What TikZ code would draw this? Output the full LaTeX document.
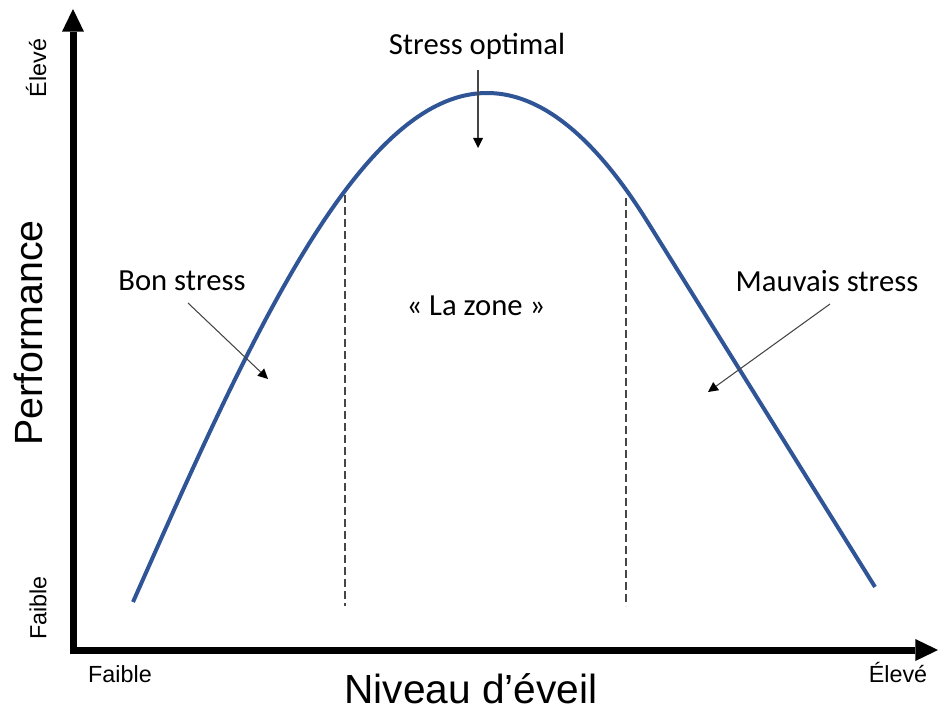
\documentclass[tikz,border=0pt]{standalone}
\usepackage{fontspec}
\setmainfont{Liberation Sans}
\newfontfamily\calib{Carlito}
\usetikzlibrary{arrows.meta}
\definecolor{curveblue}{RGB}{47,85,151}
\definecolor{arrgrey}{RGB}{70,70,70}
\begin{document}
\begin{tikzpicture}[x=0.75pt,y=-0.75pt,
  axisline/.style={line width=5.25pt, line join=miter,
    {Triangle[length=17pt,width=16.5pt,line width=0pt]}-{Triangle[length=17pt,width=16.5pt,line width=0pt]}},
  tick/.style={font=\fontsize{17.5pt}{20pt}\selectfont, inner sep=0pt},
  axtitle/.style={font=\fontsize{30.5pt}{36pt}\selectfont, inner sep=0pt},
  lbl/.style={font=\calib\fontsize{23pt}{27pt}\selectfont, inner sep=0pt},
  pointer/.style={draw=arrgrey, line width=0.8pt, -{Triangle[length=7.5pt,width=7.5pt,line width=0pt,fill=black]}},
  zoneline/.style={draw=arrgrey, line width=1.1pt, dash pattern=on 6pt off 3pt},
  bell/.style={draw=curveblue, line width=3pt, line cap=butt, line join=round}]
\useasboundingbox (0,0) rectangle (938,713);

% axes
\coordinate (ytip) at (73,9);
\coordinate (corner) at (73,650);
\coordinate (xtip) at (938,650);
\draw[axisline] (ytip) -- (corner) -- (xtip);

% axis labels
\node[tick, rotate=90] (ylow) at (38,608) {Faible};
\node[tick, rotate=90] (yhigh) at (36,68) {Élevé};
\node[tick] (xlow) at (120,674) {Faible};
\node[tick] (xhigh) at (898,672) {Élevé};
\node[axtitle, rotate=90, anchor=base, font=\fontsize{29.5pt}{34pt}\selectfont] (ytitle) at (42,333) {Performance};
\node[axtitle, anchor=base] (xtitle) at (471,703) {Niveau d’éveil};

% zone boundaries
\coordinate (zl1) at (345,195);
\coordinate (zl2) at (345,606);
\coordinate (zr1) at (626,198);
\coordinate (zr2) at (626,606);
\draw[zoneline] (zl1) -- (zl2);
\draw[zoneline] (zr1) -- (zr2);

% curve
\draw[bell]
  plot[domain=133:487, samples=90] (\x, {93+509*(1-cos(((487-\x)/354)*90))})
  -- plot[domain=487:875, samples=90]
     (\x, {93 + ((\x<647.5) ? (50*((\x-487)/100)^2) : (160.5*((\x-487)/100) - 128.8))});

% labels
\node[lbl] (opt) at (477,46) {Stress optimal};
\node[lbl] (bon) at (182,281) {Bon stress};
\node[lbl] (mauv) at (827,281) {Mauvais stress};
\node[lbl] (zone) at (476,306) {« La zone »};

% pointers
\coordinate (opts) at (478,70);
\coordinate (opte) at (478,148);
\coordinate (bons) at (188,303);
\coordinate (bone) at (268,379);
\coordinate (mauvs) at (830,304);
\coordinate (mauve) at (708,392);
\draw[pointer] (opts) -- (opte);
\draw[pointer] (bons) -- (bone);
\draw[pointer] (mauvs) -- (mauve);
\end{tikzpicture}
\end{document}
